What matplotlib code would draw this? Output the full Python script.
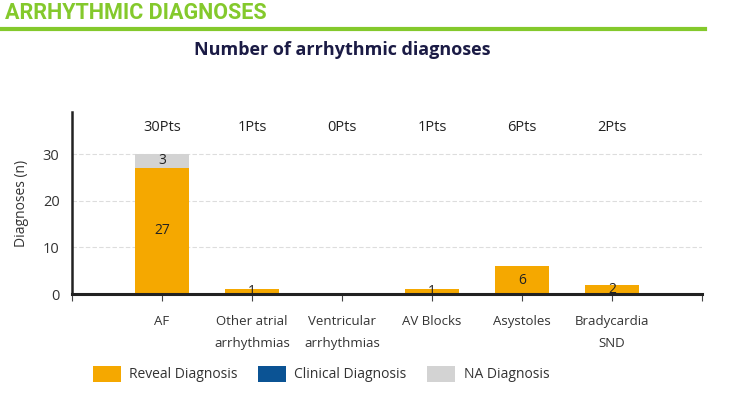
import matplotlib
matplotlib.use("Agg")
import matplotlib.pyplot as plt
from matplotlib.patches import Patch
from matplotlib.lines import Line2D

categories = ["AF", "Other atrial\narrhythmias", "Ventricular\narrhythmias",
              "AV Blocks", "Asystoles", "Bradycardia\nSND"]
reveal = [27, 1, 0, 1, 6, 2]
clinical = [0, 0, 0, 0, 0, 0]
na_diag = [3, 0, 0, 0, 0, 0]
patients = [30, 1, 0, 1, 6, 2]

ORANGE = "#f5a800"
BLUE = "#0b5394"
GREY = "#d3d3d3"
GREEN = "#84c92c"
NAVY = "#1b1b45"
TEXT = "#333333"

plt.rcParams["font.family"] = ["Open Sans", "DejaVu Sans"]

fig = plt.figure(figsize=(7.56, 3.97), dpi=100)
ax = fig.add_axes([72 / 756, 1 - 294 / 397, 630 / 756, 182 / 397])

x = list(range(len(categories)))
bottom_clin = reveal
bottom_na = [r + c for r, c in zip(reveal, clinical)]
ax.bar(x, reveal, width=0.6, color=ORANGE, zorder=2)
ax.bar(x, clinical, width=0.6, bottom=bottom_clin, color=BLUE, zorder=2)
ax.bar(x, na_diag, width=0.6, bottom=bottom_na, color=GREY, zorder=2)

# value labels inside segments
for i in x:
    if reveal[i] > 0:
        ax.text(i, reveal[i] / 2, str(reveal[i]), ha="center", va="center",
                fontsize=10, color="#222222", zorder=3)
    if na_diag[i] > 0:
        ax.text(i, bottom_na[i] + na_diag[i] / 2, str(na_diag[i]), ha="center",
                va="center", fontsize=10, color="#222222", zorder=3)
    ax.text(i, 35.6, f"{patients[i]}Pts", ha="center", va="center",
            fontsize=10.5, color="#222222")

ax.set_xlim(-1, 6)
ax.set_ylim(0, 39)
ax.set_yticks([0, 10, 20, 30])
ax.set_yticklabels(["0", "10", "20", "30"], fontsize=10.5, color=TEXT)
ax.set_xticks(range(-1, 7))
ax.set_xticklabels([""] + categories + [""], fontsize=9.5, color=TEXT,
                   linespacing=1.9)
ax.tick_params(axis="x", length=5, width=0.8, color="#444444", pad=10)
ax.tick_params(axis="y", length=0, pad=9)
ax.yaxis.grid(True, linestyle=(0, (4, 2)), color="#dddddd", linewidth=0.8, zorder=0)
ax.set_ylabel("Diagnoses (n)", fontsize=10, color=TEXT, labelpad=10)

for s in ["top", "right"]:
    ax.spines[s].set_visible(False)
ax.spines["left"].set_linewidth(1.8)
ax.spines["bottom"].set_linewidth(2.2)
ax.spines["left"].set_color("#222222")
ax.spines["bottom"].set_color("#222222")

# header and title
fig.text(5 / 756, 1 - 13 / 397, "ARRHYTHMIC DIAGNOSES", fontsize=15.5,
         fontweight="bold", color=GREEN, va="center", ha="left",
         family=["Roboto", "DejaVu Sans"])
fig.add_artist(Line2D([0, 705 / 756], [1 - 29 / 397, 1 - 29 / 397],
                      transform=fig.transFigure, color=GREEN, linewidth=3))
fig.text(342 / 756, 1 - 50 / 397, "Number of arrhythmic diagnoses",
         fontsize=13, fontweight="bold", color=NAVY, ha="center", va="center")

handles = [Patch(facecolor=ORANGE, edgecolor="none", label="Reveal Diagnosis"),
           Patch(facecolor=BLUE, edgecolor="none", label="Clinical Diagnosis"),
           Patch(facecolor=GREY, edgecolor="none", label="NA Diagnosis")]
fig.legend(handles=handles, loc="center", bbox_to_anchor=(321 / 756, 1 - 374 / 397),
           ncol=3, frameon=False, fontsize=10, handlelength=2.0,
           handleheight=1.4, columnspacing=1.5, handletextpad=0.6,
           labelcolor=TEXT)

fig.savefig("out.png", dpi=100)
